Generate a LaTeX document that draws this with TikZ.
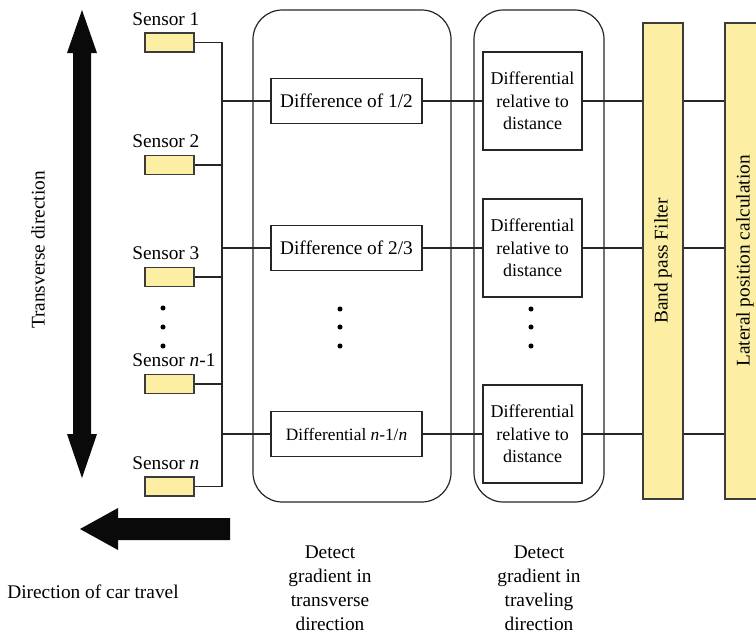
\documentclass[tikz,border=0pt]{standalone}
\usepackage{fontspec}
\setmainfont{Liberation Serif}
\usetikzlibrary{positioning}

\definecolor{padyellow}{RGB}{252,238,162}
\definecolor{edgegray}{RGB}{60,60,60}

\begin{document}
\begin{tikzpicture}[
  x=0.75pt, y=-0.75pt,
  font=\fontsize{14.5}{17.5}\selectfont,
  sensor/.style={rectangle, draw=edgegray, fill=padyellow, line width=0.9pt,
                 minimum width=36.75pt, minimum height=14.25pt, inner sep=0},
  slbl/.style={anchor=base west, inner sep=0},
  group/.style={rectangle, rounded corners=22pt, draw=black!85, line width=0.9pt, inner sep=0},
  diff/.style={rectangle, draw=black!85, line width=0.9pt, minimum width=113.25pt,
               minimum height=33.75pt, inner sep=0},
  rel/.style={rectangle, draw=black!85, line width=0.9pt, minimum width=74.25pt,
              minimum height=73.5pt, align=center, inner sep=0,
              font=\fontsize{13.5}{17}\selectfont},
  stage/.style={rectangle, draw=edgegray, fill=padyellow, line width=0.9pt,
                minimum width=30pt, minimum height=357pt, inner sep=0},
  wire/.style={draw=black!85, line width=0.9pt},
  grouplbl/.style={align=center, font=\fontsize{14.5}{18}\selectfont},
  dot/.style={circle, fill=black, inner sep=0, minimum size=3.8pt},
]
\useasboundingbox (0,0) rectangle (756,639);

% big direction arrows
\fill[black!96] (82,10) -- (97,53) -- (91,53) -- (91,434) -- (97,434) -- (82,478)
  -- (67,434) -- (73,434) -- (73,53) -- (67,53) -- cycle;
\fill[black!96] (80,529) -- (118,508) -- (118,518) -- (230,518) -- (230,540)
  -- (118,540) -- (118,550) -- cycle;
\node[rotate=90] (trans) at (38,250) {Transverse direction};
\node (travel) at (93,592) {Direction of car travel};

% sensors
\node[sensor] (s1) at (169.5,42.5) {};
\node[sensor] (s2) at (169.5,165)  {};
\node[sensor] (s3) at (169.5,277)  {};
\node[sensor] (s4) at (169.5,384)  {};
\node[sensor] (s5) at (169.5,486.5) {};
\node[slbl] (l1) at (132,25.5)  {Sensor 1};
\node[slbl] (l2) at (132,147.5) {Sensor 2};
\node[slbl] (l3) at (132,259.5) {Sensor 3};
\node[slbl] (l4) at (132,366.5) {Sensor \textit{n}-1};
\node[slbl] (l5) at (132,469.5) {Sensor \textit{n}};
\foreach \y in {308,327,346} \node[dot] at (163,\y) {};

\coordinate (bus) at (222,0);

% groups
\node[group, minimum width=148.5pt, minimum height=369pt] (g1) at (352,256) {};
\node[group, minimum width=97.5pt,  minimum height=369pt] (g2) at (539,256) {};
\node[grouplbl] (g1lbl) at (330,588) {Detect\\gradient in\\transverse\\direction};
\node[grouplbl] (g2lbl) at (539,588) {Detect\\gradient in\\traveling\\direction};

\node[diff] (d1) at (346.5,101) {Difference of 1/2};
\node[diff] (d2) at (346.5,248) {Difference of 2/3};
\node[diff] (d3) at (346.5,434) {\fontsize{13}{15}\selectfont Differential \textit{n}-1/\textit{n}};
\foreach \y in {309,327,346} \node[dot] at (340,\y) {};

\node[rel] (r1) at (532.5,101) {Differential\\relative to\\distance};
\node[rel] (r2) at (532.5,248) {Differential\\relative to\\distance};
\node[rel] (r3) at (532.5,434) {Differential\\relative to\\distance};
\foreach \y in {309,327,346} \node[dot] at (531,\y) {};

\node[stage] (bpf) at (663,261) {};
\node[rotate=90] (bpftxt) at (bpf) {Band pass Filter};
\node[stage] (lat) at (745,261) {};
\node[rotate=90] (lattxt) at (lat) {Lateral position calculation};

% wiring
\draw[wire] (s1.east) -- (s1.east -| bus) -- (s5.east -| bus) -- (s5.east);
\foreach \s in {s2,s3,s4}
  \draw[wire] (\s.east) -- (\s.east -| bus);
\foreach \d/\r in {d1/r1,d2/r2,d3/r3} {
  \draw[wire] (\d.west -| bus) -- (\d.west);
  \draw[wire] (\d.east) -- (\r.west);
  \draw[wire] (\r.east) -- (\r.east -| bpf.west);
  \draw[wire] (\r.east -| bpf.east) -- (\r.east -| lat.west);
}

\end{tikzpicture}
\end{document}
